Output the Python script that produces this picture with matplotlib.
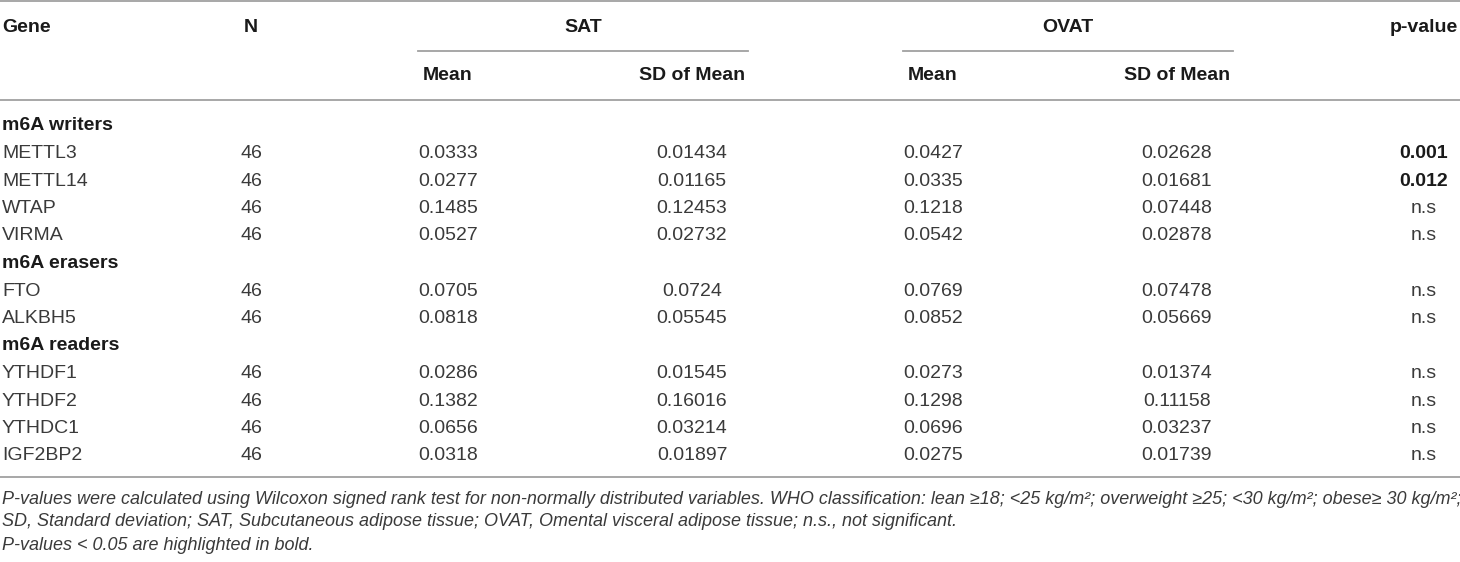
import matplotlib
matplotlib.use("Agg")
import matplotlib.pyplot as plt

plt.rcParams['font.family'] = ['Liberation Sans', 'DejaVu Sans']

# table content
groups = ["m6A writers", "m6A erasers", "m6A readers"]
genes = [["METTL3", "METTL14", "WTAP", "VIRMA"],
         ["FTO", "ALKBH5"],
         ["YTHDF1", "YTHDF2", "YTHDC1", "IGF2BP2"]]
n_vals = [46, 46, 46, 46, 46, 46, 46, 46, 46, 46]
sat_mean = ["0.0333", "0.0277", "0.1485", "0.0527", "0.0705", "0.0818",
            "0.0286", "0.1382", "0.0656", "0.0318"]
sat_sd = ["0.01434", "0.01165", "0.12453", "0.02732", "0.0724", "0.05545",
          "0.01545", "0.16016", "0.03214", "0.01897"]
ovat_mean = ["0.0427", "0.0335", "0.1218", "0.0542", "0.0769", "0.0852",
             "0.0273", "0.1298", "0.0696", "0.0275"]
ovat_sd = ["0.02628", "0.01681", "0.07448", "0.02878", "0.07478", "0.05669",
           "0.01374", "0.11158", "0.03237", "0.01739"]
pvals = ["0.001", "0.012", "n.s", "n.s", "n.s", "n.s", "n.s", "n.s", "n.s", "n.s"]

footnotes = [
    "P-values were calculated using Wilcoxon signed rank test for non-normally distributed variables. "
    "WHO classification: lean \u226518; <25 kg/m\u00b2; overweight \u226525; <30 kg/m\u00b2; obese\u2265 30 kg/m\u00b2;",
    "SD, Standard deviation; SAT, Subcutaneous adipose tissue; OVAT, Omental visceral adipose tissue; n.s., not significant.",
    "P-values < 0.05 are highlighted in bold.",
]

W, H = 1460, 562
fig = plt.figure(figsize=(W / 100, H / 100), dpi=100)
ax = fig.add_axes([0, 0, 1, 1])
ax.set_xlim(0, W)
ax.set_ylim(H, 0)
ax.axis('off')

fs = 14
txt = '#3a3a3a'
hdr = '#1a1a1a'
line_c = '#a0a0a0'

# column x positions (px)
x_gene = 2
x_n = 251
x_sat_m, x_sat_sd = 448, 692
x_ov_m, x_ov_sd = 933, 1177
x_p = 1424

# rules
ax.plot([0, W], [1, 1], color=line_c, lw=1.3)
ax.plot([418, 748], [51, 51], color=line_c, lw=1.3)
ax.plot([903, 1233], [51, 51], color=line_c, lw=1.3)
ax.plot([0, W], [100, 100], color=line_c, lw=1.3)

# header
hy1, hy2 = 27, 76
ax.text(x_gene, hy1, "Gene", fontsize=fs, weight='bold', va='center', ha='left', color=hdr)
ax.text(x_n, hy1, "N", fontsize=fs, weight='bold', va='center', ha='center', color=hdr)
ax.text((418 + 748) / 2, hy1, "SAT", fontsize=fs, weight='bold', va='center', ha='center', color=hdr)
ax.text((903 + 1233) / 2, hy1, "OVAT", fontsize=fs, weight='bold', va='center', ha='center', color=hdr)
ax.text(x_p, hy1, "p-value", fontsize=fs, weight='bold', va='center', ha='center', color=hdr)
for xm, xs in [(x_sat_m, x_sat_sd), (x_ov_m, x_ov_sd)]:
    ax.text(xm, hy2, "Mean", fontsize=fs, weight='bold', va='center', ha='center', color=hdr)
    ax.text(xs, hy2, "SD of Mean", fontsize=fs, weight='bold', va='center', ha='center', color=hdr)

# body
y0, dy = 126, 27.5
row = 0
k = 0
for g, glist in zip(groups, genes):
    y = y0 + row * dy
    ax.text(x_gene, y, g, fontsize=fs, weight='bold', va='center', ha='left', color=hdr)
    row += 1
    for name in glist:
        y = y0 + row * dy
        ax.text(x_gene, y, name, fontsize=fs, va='center', ha='left', color=txt)
        ax.text(x_n, y, str(n_vals[k]), fontsize=fs, va='center', ha='center', color=txt)
        ax.text(x_sat_m, y, sat_mean[k], fontsize=fs, va='center', ha='center', color=txt)
        ax.text(x_sat_sd, y, sat_sd[k], fontsize=fs, va='center', ha='center', color=txt)
        ax.text(x_ov_m, y, ovat_mean[k], fontsize=fs, va='center', ha='center', color=txt)
        ax.text(x_ov_sd, y, ovat_sd[k], fontsize=fs, va='center', ha='center', color=txt)
        bold = pvals[k] != "n.s"
        ax.text(x_p, y, pvals[k], fontsize=fs, va='center', ha='center',
                weight='bold' if bold else 'normal', color=hdr if bold else txt)
        row += 1
        k += 1

ax.plot([0, W], [477, 477], color=line_c, lw=1.3)

for i, f in enumerate(footnotes):
    ax.text(x_gene, 499 + i * 23, f, fontsize=13, style='italic', va='center', ha='left', color=txt)

fig.savefig("out.png", dpi=100)
